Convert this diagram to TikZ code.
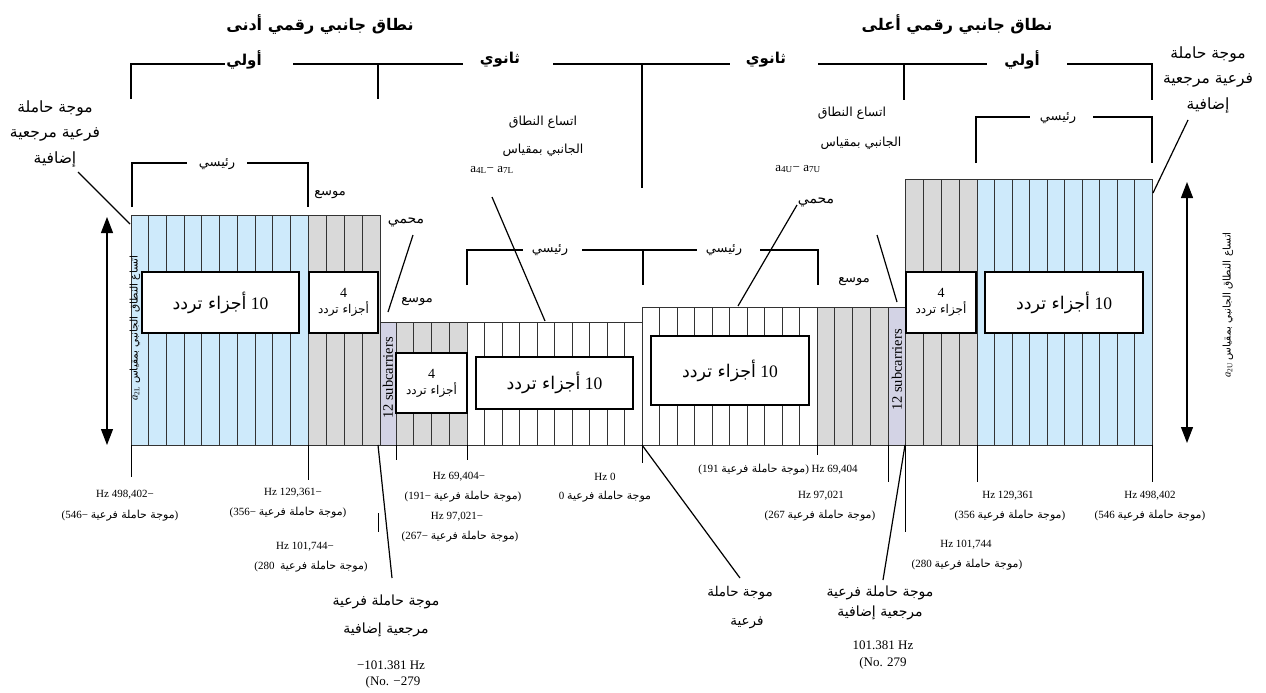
\documentclass[tikz,border=0pt]{standalone}
\usepackage{fontspec}
\setmainfont{Liberation Serif}
\newfontfamily\ar[Script=Arabic]{DejaVu Sans}
\TeXXeTstate=1
\usetikzlibrary{arrows.meta}
\newcommand{\AR}[1]{{\ar\beginR #1\endR}}
\newcommand{\fsz}[1]{\fontsize{#1}{#1}\selectfont}
\definecolor{cblue}{RGB}{206,234,251}
\definecolor{cgray}{RGB}{217,217,217}
\definecolor{clav}{RGB}{211,211,229}
\newcommand{\colblock}[6]{%
  \pgfmathsetmacro\cbw{(#2-#1)/#3}%
  \foreach \i in {1,...,#3}{%
    \draw[colline,fill=#6] ({#1+(\i-1)*\cbw},#4) rectangle ({#1+\i*\cbw},#5);}%
}
\begin{document}
\begin{tikzpicture}[x=1pt,y=-1pt,
  colline/.style={draw=black!80,line width=0.7pt},
  brk/.style={line width=1.4pt},
  lead/.style={line width=1.2pt},
  tick/.style={line width=0.9pt},
  box/.style={draw,fill=white,line width=1.2pt,inner sep=0pt,align=center},
  lbl/.style={inner sep=0pt,align=center},
  dbl/.style={line width=1.2pt,{Triangle[width=12pt,length=16pt]}-{Triangle[width=12pt,length=16pt]}}]
\useasboundingbox (0,0) rectangle (1266,693);
\fill[white] (0,0) rectangle (1266,693);

% ---------- titles ----------
\node[lbl,font=\fsz{16}\bfseries] (titleL) at (320,25) {\AR{نطاق جانبي رقمي أدنى}};
\node[lbl,font=\fsz{16}\bfseries] (titleR) at (957,25) {\AR{نطاق جانبي رقمي أعلى}};

% ---------- top bracket ----------
\draw[brk] (131,99) -- (131,64) -- (225,64);
\draw[brk] (293,64) -- (463,64);
\draw[brk] (553,64) -- (730,64);
\draw[brk] (818,64) -- (987,64);
\draw[brk] (1067,64) -- (1152,64) -- (1152,100);
\draw[brk] (378,64) -- (378,99);
\draw[brk] (642,64) -- (642,188);
\draw[brk] (904,64) -- (904,100);
\node[lbl,font=\fsz{15}\bfseries] (lvL1) at (244,60) {\AR{أولي}};
\node[lbl,font=\fsz{15}\bfseries] (lvL2) at (500,60) {\AR{ثانوي}};
\node[lbl,font=\fsz{15}\bfseries] (lvR2) at (766,60) {\AR{ثانوي}};
\node[lbl,font=\fsz{15}\bfseries] (lvR1) at (1022,60) {\AR{أولي}};

% ---------- main brackets ----------
\draw[brk] (132,207) -- (132,163) -- (187,163);
\draw[brk] (247,163) -- (308,163) -- (308,207);
\node[lbl,font=\fsz{13}] (mainL) at (217,164) {\AR{رئيسي}};
\draw[brk] (976,163) -- (976,117) -- (1030,117);
\draw[brk] (1093,117) -- (1152,117) -- (1152,163);
\node[lbl,font=\fsz{13}] (mainR) at (1058,118) {\AR{رئيسي}};
\draw[brk] (467,285) -- (467,250) -- (523,250);
\draw[brk] (582,250) -- (697,250);
\draw[brk] (760,250) -- (818,250) -- (818,285);
\draw[brk] (643,250) -- (643,285);
\node[lbl,font=\fsz{13}] (mainC1) at (550,250) {\AR{رئيسي}};
\node[lbl,font=\fsz{13}] (mainC2) at (724,250) {\AR{رئيسي}};

% ---------- columns ----------
\colblock{131}{308}{10}{215}{445}{cblue}
\colblock{308}{380}{4}{215}{445}{cgray}
\colblock{380}{396}{1}{322}{445}{clav}
\colblock{396}{467}{4}{322}{445}{cgray}
\colblock{467}{642}{10}{322}{445}{white}
\colblock{642}{817}{10}{307}{445}{white}
\colblock{817}{888}{4}{307}{445}{cgray}
\colblock{888}{905}{1}{307}{445}{clav}
\colblock{905}{977}{4}{179}{445}{cgray}
\colblock{977}{1152}{10}{179}{445}{cblue}

% rotated labels
\node[lbl,rotate=90,font=\fsz{10.5}] (rotL) at (135,328) {\textit{a}\textsubscript{2L} \AR{اتساع النطاق الجانبي بمقياس}};
\node[lbl,rotate=90,font=\fsz{10.5}] (rotR) at (1228,305) {\textit{a}\textsubscript{2U} \AR{اتساع النطاق الجانبي بمقياس}};
\node[lbl,rotate=90,font=\fsz{14.5}] (sc1) at (388,378) {12 subcarriers};
\node[lbl,rotate=90,font=\fsz{14.5}] (sc2) at (897,370) {12 subcarriers};

% ---------- boxes ----------
\node[box,font=\fsz{17.5},minimum width=157pt,minimum height=61pt] (bx1) at (220.5,302.5) {\AR{أجزاء تردد} 10};
\node[box,font=\fsz{14},minimum width=69pt,minimum height=61pt] (bx2) at (343.5,302.5) {4\\[2pt]\fsz{12}\AR{أجزاء تردد}};
\node[box,font=\fsz{14},minimum width=71pt,minimum height=60pt] (bx3) at (431.5,383) {4\\[2pt]\fsz{12}\AR{أجزاء تردد}};
\node[box,font=\fsz{17.5},minimum width=157pt,minimum height=52pt] (bx4) at (554.5,383) {\AR{أجزاء تردد} 10};
\node[box,font=\fsz{17.5},minimum width=158pt,minimum height=69pt] (bx5) at (730,370.5) {\AR{أجزاء تردد} 10};
\node[box,font=\fsz{14},minimum width=70pt,minimum height=61pt] (bx6) at (941,302.5) {4\\[2pt]\fsz{12}\AR{أجزاء تردد}};
\node[box,font=\fsz{17.5},minimum width=158pt,minimum height=61pt] (bx7) at (1064,302.5) {\AR{أجزاء تردد} 10};

% ---------- small labels ----------
\node[lbl,font=\fsz{13}] (extL1) at (330,195) {\AR{موسع}};
\node[lbl,font=\fsz{13}] (extL2) at (417,302) {\AR{موسع}};
\node[lbl,font=\fsz{13}] (extR) at (854,282) {\AR{موسع}};
\node[lbl,font=\fsz{14}] (grdL) at (406,222) {\AR{محمي}};
\node[lbl,font=\fsz{14}] (grdR) at (816,202) {\AR{محمي}};

\node[lbl,font=\fsz{12.5}] (mL1) at (543,122) {\AR{اتساع النطاق}};
\node[lbl,font=\fsz{12.5}] (mL2) at (543,150) {\AR{الجانبي بمقياس}};
\node[lbl,font=\fsz{13}] (mL3) at (492,170) {a\textsubscript{4L}− a\textsubscript{7L}};
\node[lbl,font=\fsz{12.5}] (mR1) at (852,113) {\AR{اتساع النطاق}};
\node[lbl,font=\fsz{12.5}] (mR2) at (861,143) {\AR{الجانبي بمقياس}};
\node[lbl,font=\fsz{13}] (mR3) at (798,169) {a\textsubscript{4U}− a\textsubscript{7U}};

\node[lbl,font=\fsz{15.5}] (refTL) at (55,134) {\AR{موجة حاملة}\\[10pt]\AR{فرعية مرجعية}\\[9pt]\AR{إضافية}};
\node[lbl,font=\fsz{15.5}] (refTR) at (1208,80) {\AR{موجة حاملة}\\[10pt]\AR{فرعية مرجعية}\\[9pt]\AR{إضافية}};

% ---------- dimension arrows ----------
\coordinate (aL1) at (107,217); \coordinate (aL2) at (107,445);
\coordinate (aR1) at (1187,182); \coordinate (aR2) at (1187,443);
\draw[dbl] (aL1) -- (aL2);
\draw[dbl] (aR1) -- (aR2);

% ---------- ticks ----------
\draw[tick] (131,445) -- (131,477);
\draw[tick] (308,445) -- (308,480);
\draw[tick] (396,445) -- (396,460);
\draw[tick] (467,445) -- (467,460);
\draw[tick] (642,445) -- (642,463);
\draw[tick] (817,445) -- (817,455);
\draw[tick] (888,445) -- (888,482);
\draw[tick] (905,445) -- (905,532);
\draw[tick] (977,445) -- (977,482);
\draw[tick] (1152,445) -- (1152,482);
\draw[tick] (378,513) -- (378,532);

% ---------- leaders ----------
\coordinate (pTL) at (78,172); \coordinate (qTL) at (130,224);
\coordinate (pTR) at (1188,120); \coordinate (qTR) at (1153,193);
\coordinate (pA4L) at (492,197); \coordinate (qA4L) at (545,321);
\coordinate (pGL) at (413,235); \coordinate (qGL) at (388,312);
\coordinate (pGR) at (797,205); \coordinate (qGR) at (738,306);
\coordinate (pXR) at (877,235); \coordinate (qXR) at (897,302);
\coordinate (pBL) at (392,578); \coordinate (qBL) at (378,445);
\coordinate (pBC) at (740,578); \coordinate (qBC) at (642,445);
\coordinate (pBR) at (883,580); \coordinate (qBR) at (905,445);
\draw[lead] (pTL) -- (qTL);
\draw[lead] (pTR) -- (qTR);
\draw[lead] (pA4L) -- (qA4L);
\draw[lead] (pGL) -- (qGL);
\draw[lead] (pGR) -- (qGR);
\draw[lead] (pXR) -- (qXR);
\draw[lead] (pBL) -- (qBL);
\draw[lead] (pBC) -- (qBC);
\draw[lead] (pBR) -- (qBR);

% ---------- frequency labels ----------
\tikzset{fl/.style={lbl,font=\fsz{11}}}
\node[fl] (n1a) at (125,495) {Hz 498,402−};
\node[fl] (n1b) at (120,516) {(546− \AR{موجة حاملة فرعية})};
\node[fl] (n2a) at (293,493) {Hz 129,361−};
\node[fl] (n2b) at (288,513) {(356− \AR{موجة حاملة فرعية})};
\node[fl] (n3a) at (305,547) {Hz 101,744−};
\node[fl] (n3b) at (311,567) {(280\ \ \AR{موجة حاملة فرعية})};
\node[fl] (n4a) at (459,477) {Hz 69,404−};
\node[fl] (n4b) at (463,497) {(191− \AR{موجة حاملة فرعية})};
\node[fl] (n5a) at (457,517) {Hz 97,021−};
\node[fl] (n5b) at (460,537) {(267− \AR{موجة حاملة فرعية})};
\node[fl] (n6a) at (605,477) {Hz 0};
\node[fl] (n6b) at (605,497) {0 \AR{موجة حاملة فرعية}};
\node[fl] (n7) at (778,470) {(191 \AR{موجة حاملة فرعية}) Hz 69,404};
\node[fl] (n8a) at (821,496) {Hz 97,021};
\node[fl] (n8b) at (820,516) {(267 \AR{موجة حاملة فرعية})};
\node[fl] (n9a) at (1008,496) {Hz 129,361};
\node[fl] (n9b) at (1010,516) {(356 \AR{موجة حاملة فرعية})};
\node[fl] (n10a) at (1150,496) {Hz 498,402};
\node[fl] (n10b) at (1150,516) {(546 \AR{موجة حاملة فرعية})};
\node[fl] (n11a) at (966,545) {Hz 101,744};
\node[fl] (n11b) at (967,565) {(280 \AR{موجة حاملة فرعية})};

% ---------- bottom labels ----------
\node[lbl,font=\fsz{14}] (bl1) at (386,602) {\AR{موجة حاملة فرعية}};
\node[lbl,font=\fsz{14}] (bl2) at (386,630) {\AR{مرجعية إضافية}};
\node[lbl,font=\fsz{13}] (bl3) at (391,665) {−101.381 Hz};
\node[lbl,font=\fsz{13}] (bl4) at (393,682) {(No. −279};
\node[lbl,font=\fsz{13.5}] (bc1) at (740,593) {\AR{موجة حاملة}};
\node[lbl,font=\fsz{13.5}] (bc2) at (747,623) {\AR{فرعية}};
\node[lbl,font=\fsz{14}] (br1) at (880,593) {\AR{موجة حاملة فرعية}};
\node[lbl,font=\fsz{14}] (br2) at (880,613) {\AR{مرجعية إضافية}};
\node[lbl,font=\fsz{13}] (br3) at (883,645) {101.381 Hz};
\node[lbl,font=\fsz{13}] (br4) at (883,663) {(No. 279};
\end{tikzpicture}
\end{document}
